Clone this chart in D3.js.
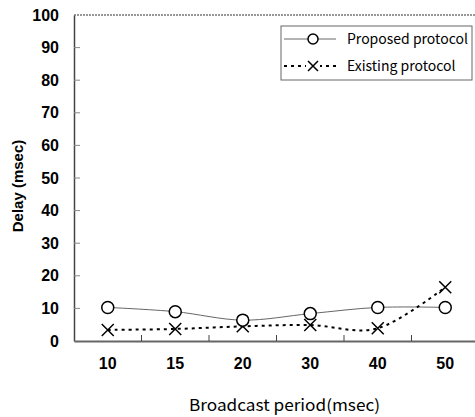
<!DOCTYPE html>
<html>
<head>
<meta charset="utf-8">
<script src="https://cdn.jsdelivr.net/npm/d3@7"></script>
<style>
  body { margin: 0; background: #fff; }
  svg { display: block; }
  .tick text { font-family: "Liberation Sans", Arial, sans-serif; font-weight: bold; font-size: 16px; fill: #000; }
</style>
</head>
<body>
<div id="chart"></div>
<script>
const periods = ["10", "15", "20", "30", "40", "50"];
const proposed = [10.3, 9.0, 6.4, 8.4, 10.3, 10.3];
const existing = [3.4, 3.7, 4.5, 4.9, 3.9, 16.5];
const yTicks = [0, 10, 20, 30, 40, 50, 60, 70, 80, 90, 100];

const W = 475, H = 417;
const margin = { top: 15, right: -4, bottom: 76, left: 74 };
const width = W - margin.left - margin.right;
const height = H - margin.top - margin.bottom;

const svg = d3.select("#chart").append("svg")
  .attr("width", W)
  .attr("height", H);

const g = svg.append("g")
  .attr("transform", `translate(${margin.left},${margin.top})`);

const x = d3.scaleBand().domain(periods).range([0, width]);
const y = d3.scaleLinear().domain([0, 100]).range([height, 0]);
const cx = d => x(d) + x.bandwidth() / 2;

// frame: top border
g.append("line")
  .attr("x1", 0).attr("x2", width)
  .attr("y1", 0).attr("y2", 0)
  .attr("stroke", "#333").attr("stroke-width", 1.2)
  .attr("stroke-dasharray", "2,1");

// y axis
const yAxis = g.append("g")
  .call(d3.axisLeft(y).tickValues(yTicks).tickSize(0).tickPadding(15));
yAxis.select(".domain").attr("stroke", "#444").attr("stroke-width", 1.5);
yAxis.selectAll(".tick line").remove();
g.append("g").selectAll("line")
  .data(yTicks.slice(1, -1))
  .join("line")
  .attr("x1", 0).attr("x2", 6)
  .attr("y1", d => y(d)).attr("y2", d => y(d))
  .attr("stroke", "#888");

// x axis
const xAxis = g.append("g")
  .attr("transform", `translate(0,${height})`)
  .call(d3.axisBottom(x).tickSize(0).tickPadding(17));
xAxis.select(".domain").attr("stroke", "#666").attr("stroke-width", 2.2);
g.append("g").selectAll("line")
  .data(periods.slice(1))
  .join("line")
  .attr("x1", d => x(d)).attr("x2", d => x(d))
  .attr("y1", height).attr("y2", height - 6)
  .attr("stroke", "#444");

// lines
const line = d3.line()
  .x((d, i) => cx(periods[i]))
  .y(d => y(d))
  .curve(d3.curveCardinal.tension(0));

g.append("path")
  .datum(proposed)
  .attr("fill", "none")
  .attr("stroke", "#666")
  .attr("stroke-width", 1)
  .attr("d", line);

g.append("path")
  .datum(existing)
  .attr("fill", "none")
  .attr("stroke", "#000")
  .attr("stroke-width", 2)
  .attr("stroke-dasharray", "3,4")
  .attr("d", line);

// markers
function drawCross(sel, px, py, s) {
  sel.append("path")
    .attr("d", `M${px - s},${py - s}L${px + s},${py + s}M${px - s},${py + s}L${px + s},${py - s}`)
    .attr("stroke", "#000").attr("stroke-width", 1.5).attr("fill", "none");
}
existing.forEach((v, i) => drawCross(g, cx(periods[i]), y(v), 6));

g.selectAll("circle.prop")
  .data(proposed)
  .join("circle")
  .attr("class", "prop")
  .attr("cx", (d, i) => cx(periods[i]))
  .attr("cy", d => y(d))
  .attr("r", 6)
  .attr("fill", "#fff")
  .attr("stroke", "#000")
  .attr("stroke-width", 1.5);

// axis titles
svg.append("text")
  .attr("transform", `translate(23,${margin.top + height / 2 + 8}) rotate(-90)`)
  .attr("text-anchor", "middle")
  .style("font-family", "Liberation Sans, Arial, sans-serif")
  .style("font-weight", "bold")
  .style("font-size", "15px")
  .text("Delay (msec)");

svg.append("text")
  .attr("x", 189)
  .attr("y", 411)
  .attr("textLength", 191)
  .attr("lengthAdjust", "spacingAndGlyphs")
  .style("font-family", "Noto Sans CJK JP, sans-serif")
  .style("font-size", "16px")
  .text("Broadcast period(msec)");

// legend
const lg = svg.append("g").attr("transform", "translate(281,26)");
lg.append("rect")
  .attr("width", 191).attr("height", 54)
  .attr("fill", "#fff").attr("stroke", "#666").attr("stroke-width", 1);

const legendItems = [
  { label: "Proposed protocol", type: "circle" },
  { label: "Existing protocol", type: "cross" }
];
legendItems.forEach((d, i) => {
  const ly = 13 + i * 27;
  const row = lg.append("g");
  if (d.type === "circle") {
    row.append("line").attr("x1", 3).attr("x2", 55).attr("y1", ly).attr("y2", ly)
      .attr("stroke", "#666").attr("stroke-width", 1);
    row.append("circle").attr("cx", 32).attr("cy", ly).attr("r", 5)
      .attr("fill", "#fff").attr("stroke", "#000").attr("stroke-width", 1.5);
  } else {
    row.append("line").attr("x1", 3).attr("x2", 55).attr("y1", ly).attr("y2", ly)
      .attr("stroke", "#000").attr("stroke-width", 2).attr("stroke-dasharray", "3,4");
    row.append("rect").attr("x", 25).attr("y", ly - 6).attr("width", 14).attr("height", 12).attr("fill", "#fff");
    drawCross(row, 32, ly, 5);
  }
  row.append("text")
    .attr("x", 66).attr("y", ly + 5)
    .style("font-family", "Noto Sans CJK JP, sans-serif")
    .style("font-size", "14px")
    .text(d.label);
});
</script>
</body>
</html>
